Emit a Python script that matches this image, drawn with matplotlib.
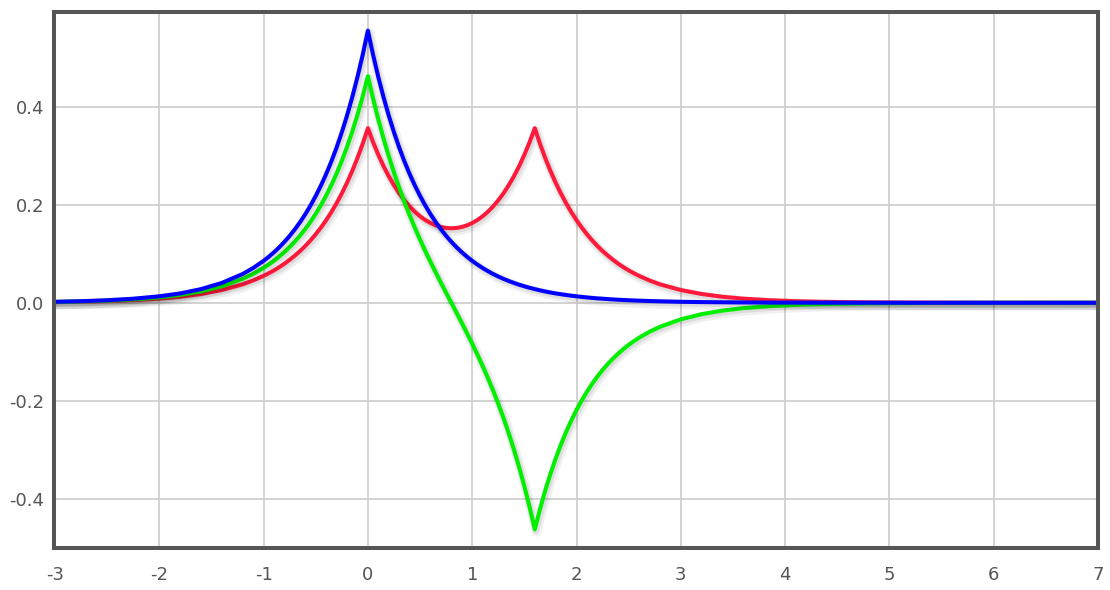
import numpy as np
import matplotlib
matplotlib.use('Agg')
import matplotlib.pyplot as plt
import matplotlib.patheffects as pe

x = [-3.0, -2.75, -2.5, -2.25, -2.0, -1.8, -1.6, -1.4, -1.2, -1.1,
     -1.0, -0.95, -0.9, -0.85, -0.8, -0.75, -0.7, -0.65, -0.6, -0.55,
     -0.5, -0.45, -0.4, -0.35, -0.3, -0.25, -0.2, -0.15, -0.1, -0.05,
     0.0, 0.05, 0.1, 0.15, 0.2, 0.25, 0.3, 0.35, 0.4, 0.45,
     0.5, 0.55, 0.6, 0.65, 0.7, 0.75, 0.8, 0.85, 0.9, 0.95,
     1.0, 1.05, 1.1, 1.15, 1.2, 1.25, 1.3, 1.35, 1.4, 1.45,
     1.5, 1.55, 1.6, 1.65, 1.7, 1.75, 1.8, 1.85, 1.9, 1.95,
     2.0, 2.05, 2.1, 2.15, 2.2, 2.25, 2.3, 2.35, 2.4, 2.45,
     2.5, 2.55, 2.6,
     2.7, 2.8, 3.0, 3.2, 3.4, 3.6, 3.85, 4.1, 4.35, 4.6, 5.0, 5.5, 6.0, 7.0]

red = [0.0013, 0.0021, 0.0033, 0.0053, 0.0084, 0.0123, 0.0179, 0.0260, 0.0377, 0.0455,
       0.0549, 0.0602, 0.0661, 0.0726, 0.0797, 0.0876, 0.0962, 0.1056, 0.1159, 0.1273,
       0.1398, 0.1535, 0.1685, 0.1850, 0.2031, 0.2231, 0.2449, 0.2689, 0.2953, 0.3242,
       0.3560, 0.3274, 0.3017, 0.2786, 0.2580, 0.2396, 0.2233, 0.2089, 0.1964, 0.1856,
       0.1764, 0.1688, 0.1626, 0.1579, 0.1546, 0.1526, 0.1519, 0.1526, 0.1546, 0.1579,
       0.1626, 0.1688, 0.1764, 0.1856, 0.1964, 0.2089, 0.2233, 0.2396, 0.2580, 0.2786,
       0.3017, 0.3274, 0.3560, 0.3242, 0.2953, 0.2689, 0.2449, 0.2231, 0.2031, 0.1850,
       0.1685, 0.1535, 0.1398, 0.1273, 0.1159, 0.1056, 0.0962, 0.0876, 0.0797, 0.0726,
       0.0661, 0.0602, 0.0549,
       0.0455, 0.0377, 0.0260, 0.0179, 0.0123, 0.0084, 0.0053, 0.0033, 0.0021, 0.0013,
       0.0006, 0.0002, 0.0001, 0.0]

green = [0.0017, 0.0027, 0.0043, 0.0069, 0.0109, 0.0160, 0.0232, 0.0337, 0.0490, 0.0590,
         0.0712, 0.0782, 0.0858, 0.0943, 0.1035, 0.1137, 0.1248, 0.1370, 0.1504, 0.1652,
         0.1814, 0.1992, 0.2187, 0.2401, 0.2636, 0.2895, 0.3179, 0.3490, 0.3832, 0.4207,
         0.4620, 0.4162, 0.3740, 0.3351, 0.2991, 0.2658, 0.2347, 0.2058, 0.1787, 0.1531,
         0.1288, 0.1056, 0.0834, 0.0620, 0.0410, 0.0204, 0.0, -0.0204, -0.0410, -0.0620,
         -0.0834, -0.1056, -0.1288, -0.1531, -0.1787, -0.2058, -0.2347, -0.2658, -0.2991, -0.3351,
         -0.3740, -0.4162, -0.4620, -0.4207, -0.3832, -0.3490, -0.3179, -0.2895, -0.2636, -0.2401,
         -0.2187, -0.1992, -0.1814, -0.1652, -0.1504, -0.1370, -0.1248, -0.1137, -0.1035, -0.0943,
         -0.0858, -0.0782, -0.0712,
         -0.0590, -0.0490, -0.0337, -0.0232, -0.0160, -0.0109, -0.0069, -0.0043, -0.0027, -0.0017,
         -0.0008, -0.0003, -0.0001, 0.0]

blue = [0.0020, 0.0032, 0.0052, 0.0083, 0.0132, 0.0191, 0.0279, 0.0405, 0.0588, 0.0709,
        0.0855, 0.0939, 0.1031, 0.1132, 0.1243, 0.1365, 0.1499, 0.1646, 0.1807, 0.1984,
        0.2179, 0.2393, 0.2627, 0.2884, 0.3167, 0.3478, 0.3818, 0.4192, 0.4603, 0.5054,
        0.5550, 0.5054, 0.4603, 0.4192, 0.3818, 0.3478, 0.3167, 0.2884, 0.2627, 0.2393,
        0.2179, 0.1984, 0.1807, 0.1646, 0.1499, 0.1365, 0.1243, 0.1132, 0.1031, 0.0939,
        0.0855, 0.0779, 0.0709, 0.0646, 0.0588, 0.0536, 0.0488, 0.0445, 0.0405, 0.0369,
        0.0336, 0.0306, 0.0279, 0.0254, 0.0231, 0.0210, 0.0191, 0.0175, 0.0159, 0.0145,
        0.0132, 0.0120, 0.0109, 0.0099, 0.0090, 0.0083, 0.0075, 0.0068, 0.0062, 0.0057,
        0.0052, 0.0047, 0.0043,
        0.0036, 0.0030, 0.0020, 0.0014, 0.0010, 0.0007, 0.0004, 0.0003, 0.0002, 0.0001,
        0.0, 0.0, 0.0, 0.0]

xticks = [-3, -2, -1, 0, 1, 2, 3, 4, 5, 6, 7]
yticks = [-0.4, -0.2, 0.0, 0.2, 0.4]
ytick_labels = ['-0.4', '-0.2', '0.0', '0.2', '0.4']

plt.rcParams['font.family'] = ['DejaVu Sans']

fig = plt.figure(figsize=(11.1, 5.9), dpi=100, facecolor='w')
ax = fig.add_axes([0.0486, 0.0712, 0.9406, 0.9085])

shadow = [pe.SimpleLineShadow(offset=(1.2, -1.8), shadow_color='k', alpha=0.06, linewidth=7),
          pe.SimpleLineShadow(offset=(0.8, -1.2), shadow_color='k', alpha=0.08, linewidth=4.5),
          pe.Normal()]

for ys, col in [(red, '#ff1a3c'), (green, '#00f000'), (blue, '#0000ff')]:
    ax.plot(x, ys, color=col, lw=2.9, solid_joinstyle='round',
            path_effects=shadow, zorder=3)

ax.set_xlim(-3.01, 7)
ax.set_ylim(-0.5, 0.593)
ax.set_xticks(xticks)
ax.set_xticklabels([str(t) for t in xticks])
ax.set_yticks(yticks)
ax.set_yticklabels(ytick_labels)
ax.tick_params(length=0, labelsize=13, labelcolor='#555555')
ax.tick_params(axis='x', pad=13)
ax.tick_params(axis='y', pad=7)
ax.grid(True, color='#d0d0d0', lw=1.3)
ax.set_axisbelow(True)
for s in ax.spines.values():
    s.set_color('#555555')
    s.set_linewidth(2.9)
    s.set_zorder(5)

fig.savefig('out.png', dpi=100)
